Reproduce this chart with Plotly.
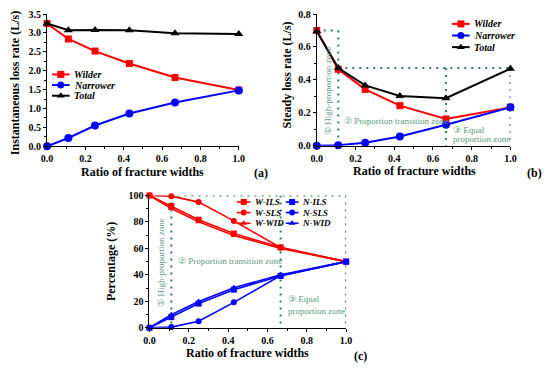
import plotly.graph_objects as go

# ---------------- data ----------------
ratio = [0.0, 0.111, 0.25, 0.429, 0.667, 1.0]

a_wilder = [3.25, 2.84, 2.52, 2.19, 1.82, 1.49]
a_narrower = [0.0, 0.22, 0.55, 0.87, 1.16, 1.48]
a_total = [3.25, 3.07, 3.08, 3.07, 2.99, 2.97]

b_wilder = [0.70, 0.464, 0.342, 0.243, 0.162, 0.233]
b_narrower = [0.0, 0.003, 0.017, 0.055, 0.127, 0.233]
b_total = [0.695, 0.472, 0.366, 0.302, 0.288, 0.468]

c_w_ils = [100, 92.0, 81.7, 71.2, 60.8, 50]
c_w_sls = [100, 99.5, 95.0, 80.8, 60.5, 50]
c_w_wid = [100, 90.2, 80.2, 69.8, 60.0, 50]
c_n_ils = [0, 8.0, 18.3, 28.8, 39.2, 50]
c_n_sls = [0, 0.5, 5.0, 19.2, 39.5, 50]
c_n_wid = [0, 9.8, 19.8, 30.2, 40.0, 50]

zone_x = [0.111, 0.667, 1.0]       # zone boundaries
b_zone_levels = [0.70, 0.472]       # dotted levels in (b)
c_zone_level = 100

zone_labels = ["\u2460 High-proportion zone", "\u2461 Proportion transition zone",
               "\u2462 Equal", "proportion zone"]

# ---------------- styling ----------------
W, H = 550, 372
SERIF = "Liberation Serif, Times New Roman, serif"
RED, BLUE, BLACK = "#ff0000", "#0000ff", "#000000"
GREEN = "#2f7f5c"
GTEXT = "#5a9a80"

fig = go.Figure()


def px_x(p):
    return p / W


def px_y(p):
    return 1 - p / H


def add_series(x, y, color, symbol, xa, ya, size=7, lw=2):
    fig.add_trace(go.Scatter(
        x=x, y=y, mode="lines+markers", xaxis=xa, yaxis=ya,
        line=dict(color=color, width=lw),
        marker=dict(color=color, symbol=symbol, size=size),
        showlegend=False, cliponaxis=False))


# (a)
add_series(ratio, a_wilder, RED, "square", "x", "y")
add_series(ratio, a_narrower, BLUE, "circle", "x", "y", size=8)
add_series(ratio, a_total, BLACK, "triangle-up", "x", "y", size=8)
# (b)
add_series(ratio, b_wilder, RED, "square", "x2", "y2")
add_series(ratio, b_narrower, BLUE, "circle", "x2", "y2", size=8)
add_series(ratio, b_total, BLACK, "triangle-up", "x2", "y2", size=8)
# (c)
for ys, col, sym in [(c_w_ils, RED, "square"), (c_w_sls, RED, "circle"), (c_w_wid, RED, "triangle-up"),
                     (c_n_ils, BLUE, "square"), (c_n_sls, BLUE, "circle"), (c_n_wid, BLUE, "triangle-up")]:
    add_series(ratio, ys, col, sym, "x3", "y3", size=6, lw=1.6)

# ---------------- manual legends (pixel overlay axis) ----------------


def legend_entry(x0, x1, y, color, symbol, label, size=7, lw=2, fsize=10):
    fig.add_trace(go.Scatter(x=[x0, x1], y=[y, y], mode="lines", xaxis="x4", yaxis="y4",
                             line=dict(color=color, width=lw), showlegend=False, hoverinfo="skip"))
    fig.add_trace(go.Scatter(x=[(x0 + x1) / 2], y=[y], mode="markers", xaxis="x4", yaxis="y4",
                             marker=dict(color=color, symbol=symbol, size=size),
                             showlegend=False, hoverinfo="skip"))
    fig.add_annotation(x=x1 + 2, y=y, xref="x4", yref="y4", text=label, showarrow=False,
                       xanchor="left", yanchor="middle",
                       font=dict(family=SERIF, size=fsize, color="black", weight="bold", style="italic"))


for i, (col, sym, lab) in enumerate([(RED, "square", "Wilder"), (BLUE, "circle", "Narrower"),
                                     (BLACK, "triangle-up", "Total")]):
    legend_entry(47, 65, 70.7 + 11 * i, col, sym, lab)
    legend_entry(456, 474, 18.5 + 12 * i, col, sym, lab)

for i, (sym, lab) in enumerate([("square", "ILS"), ("circle", "SLS"), ("triangle-up", "WID")]):
    legend_entry(236, 250, 202.5 + 11 * i, RED, sym, "W-" + lab, size=6, lw=1.6, fsize=9)
    legend_entry(286, 299, 202.5 + 11 * i, BLUE, sym, "N-" + lab, size=6, lw=1.6, fsize=9)

# ---------------- zone dotted lines ----------------
dot = dict(color=GREEN, width=2, dash="2px,5px")
x1z, x2z, x3z = zone_x
top_b, mid_b = b_zone_levels
for sh in [
    dict(x0=0, x1=x1z, y0=top_b, y1=top_b),
    dict(x0=x1z, x1=x1z, y0=top_b, y1=0),
    dict(x0=x1z, x1=x3z, y0=mid_b, y1=mid_b),
    dict(x0=x2z, x1=x2z, y0=mid_b, y1=0),
    dict(x0=x3z, x1=x3z, y0=mid_b, y1=0),
]:
    fig.add_shape(type="line", xref="x2", yref="y2", line=dot, layer="below", **sh)

for sh in [
    dict(x0=0, x1=x3z, y0=c_zone_level, y1=c_zone_level),
    dict(x0=x1z, x1=x1z, y0=c_zone_level, y1=0),
    dict(x0=x2z, x1=x2z, y0=c_zone_level, y1=0),
    dict(x0=x3z, x1=x3z, y0=c_zone_level, y1=0),
]:
    fig.add_shape(type="line", xref="x3", yref="y3", line=dot, layer="below", **sh)

zfont = dict(family=SERIF, size=9, color=GTEXT)
# (b) zone labels
fig.add_annotation(x=0.055, y=0.335, xref="x2", yref="y2", text=zone_labels[0], textangle=-90,
                   showarrow=False, font=zfont)
fig.add_annotation(x=0.13, y=0.148, xref="x2", yref="y2", text=zone_labels[1], xanchor="left",
                   showarrow=False, font=zfont)
fig.add_annotation(x=0.695, y=0.097, xref="x2", yref="y2", text=zone_labels[2], xanchor="left",
                   showarrow=False, font=zfont)
fig.add_annotation(x=0.695, y=0.038, xref="x2", yref="y2", text=zone_labels[3], xanchor="left",
                   showarrow=False, font=zfont)
# (c) zone labels
fig.add_annotation(x=0.058, y=49, xref="x3", yref="y3", text=zone_labels[0], textangle=-90,
                   showarrow=False, font=zfont)
fig.add_annotation(x=0.135, y=50.5, xref="x3", yref="y3", text=zone_labels[1], xanchor="left",
                   showarrow=False, font=zfont)
fig.add_annotation(x=0.695, y=21.5, xref="x3", yref="y3", text=zone_labels[2], xanchor="left",
                   showarrow=False, font=zfont)
fig.add_annotation(x=0.695, y=13, xref="x3", yref="y3", text=zone_labels[3], xanchor="left",
                   showarrow=False, font=zfont)

# ---------------- axes ----------------
tickfont = dict(family=SERIF, size=10, color="black", weight="bold")


def axis(domain, rng, dtick, minor, anchor, fmt):
    return dict(domain=domain, range=rng, dtick=dtick, tick0=0, anchor=anchor,
                showline=True, linecolor="black", linewidth=1.2, ticks="outside",
                ticklen=3, tickwidth=1, tickcolor="black", tickformat=fmt,
                showgrid=False, zeroline=False, tickfont=tickfont,
                minor=dict(ticks="outside", ticklen=2, dtick=minor, tick0=0, tickcolor="black"))


fig.update_layout(
    width=W, height=H, margin=dict(l=0, r=0, t=0, b=0),
    paper_bgcolor="white", plot_bgcolor="rgba(0,0,0,0)", showlegend=False,
    font=dict(family=SERIF), hovermode=False,
    xaxis=axis([px_x(42), px_x(238)], [0, 1], 0.2, 0.1, "y", ".1f"),
    yaxis=axis([px_y(145), px_y(8.3)], [0, 3.5], 0.5, 0.25, "x", ".1f"),
    xaxis2=axis([px_x(317.7), px_x(515.7)], [0, 1], 0.2, 0.1, "y2", ".1f"),
    yaxis2=axis([px_y(144.3), px_y(8.3)], [0, 0.8], 0.2, 0.1, "x2", ".1f"),
    xaxis3=axis([px_x(146.7), px_x(347.7)], [0, 1], 0.2, 0.1, "y3", ".1f"),
    yaxis3=axis([px_y(332.5), px_y(195.8)], [0, 100], 20, 10, "x3", "d"),
    xaxis4=dict(domain=[0, 1], range=[0, W], visible=False, anchor="y4", fixedrange=True),
    yaxis4=dict(domain=[0, 1], range=[H, 0], visible=False, anchor="x4", fixedrange=True),
)

# axis titles and panel tags
title_font = dict(family=SERIF, size=12, color="black", weight="bold")
for txt, x, y, ang in [
    ("Ratio of fracture widths", 140, 172, 0),
    ("Ratio of fracture widths", 417.7, 171, 0),
    ("Ratio of fracture widths", 247, 359, 0),
    ("Instantaneous loss rate (L/s)", 10, 80, -90),
    ("Steady loss rate (L/s)", 287, 71, -90),
    ("Percentage (%)", 108, 264, -90),
    ("(a)", 261, 173, 0),
    ("(b)", 540, 173, 0),
    ("(c)", 362, 362, 0),
]:
    fig.add_annotation(x=x, y=y, xref="x4", yref="y4", text=txt, textangle=ang,
                       showarrow=False, font=title_font)

fig.write_html("out.html", config={"displayModeBar": False},
               post_script="document.body.style.margin='0';document.body.style.overflow='hidden';")
